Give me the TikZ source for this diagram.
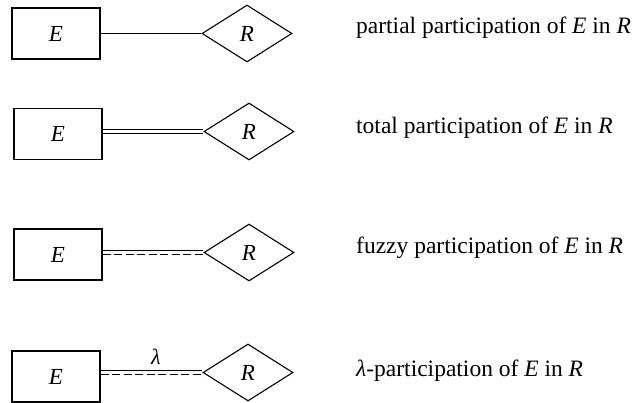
\documentclass[tikz,border=0pt]{standalone}
\usepackage{fontspec}
\setmainfont{Liberation Serif}
\usetikzlibrary{shapes.geometric}
\begin{document}
\begin{tikzpicture}[x=1pt,y=-1pt,
  entity/.style={draw,line width=1.1pt,minimum width=88pt,minimum height=51pt,inner sep=0pt,font=\fontsize{23}{25}\selectfont\itshape},
  relship/.style={draw,diamond,line width=1.1pt,minimum width=90pt,minimum height=57pt,inner sep=0pt,font=\fontsize{23}{25}\selectfont\itshape},
  link/.style={line width=1.1pt},
  fuzzy/.style={line width=1.2pt,dash pattern=on 8pt off 3.5pt},
  caption/.style={anchor=base west,inner sep=0pt,font=\fontsize{23.5}{25}\selectfont}]
\useasboundingbox (0,0) rectangle (639,402);
% partial participation
\node[entity] (e1) at (56,33.5) {E};
\node[relship] (r1) at (247,33.5) {R};
\draw[link] (e1.east) -- (r1.west);
\node[caption] (t1) at (356,33) {partial participation of \textit{E} in \textit{R}};
% total participation
\node[entity] (e2) at (58,134) {E};
\node[relship] (r2) at (249,131.5) {R};
\draw[link] ([yshift=1.6pt]r2.west -| e2.east) -- ([yshift=1.6pt]r2.west);
\draw[link] ([yshift=-1.6pt]r2.west -| e2.east) -- ([yshift=-1.6pt]r2.west);
\node[caption] (t2) at (356,133) {total participation of \textit{E} in \textit{R}};
% fuzzy participation
\node[entity] (e3) at (58,254.5) {E};
\node[relship] (r3) at (249,252.5) {R};
\draw[link] ([yshift=1.6pt]r3.west -| e3.east) -- ([yshift=1.6pt]r3.west);
\draw[fuzzy] ([yshift=-1.6pt]r3.west -| e3.east) -- ([yshift=-1.6pt]r3.west);
\node[caption] (t3) at (356,253) {fuzzy participation of \textit{E} in \textit{R}};
% lambda participation
\node[entity] (e4) at (56,376.5) {E};
\node[relship] (r4) at (248,372.5) {R};
\draw[link] ([yshift=1.6pt]r4.west -| e4.east) -- ([yshift=1.6pt]r4.west);
\draw[fuzzy] ([yshift=-1.6pt]r4.west -| e4.east) -- ([yshift=-1.6pt]r4.west);
\node[anchor=base,inner sep=0pt,font=\fontsize{22}{24}\selectfont\itshape] (l4) at (156,364) {λ};
\node[caption] (t4) at (356,376) {\textit{λ}-participation of \textit{E} in \textit{R}};
\end{tikzpicture}
\end{document}
